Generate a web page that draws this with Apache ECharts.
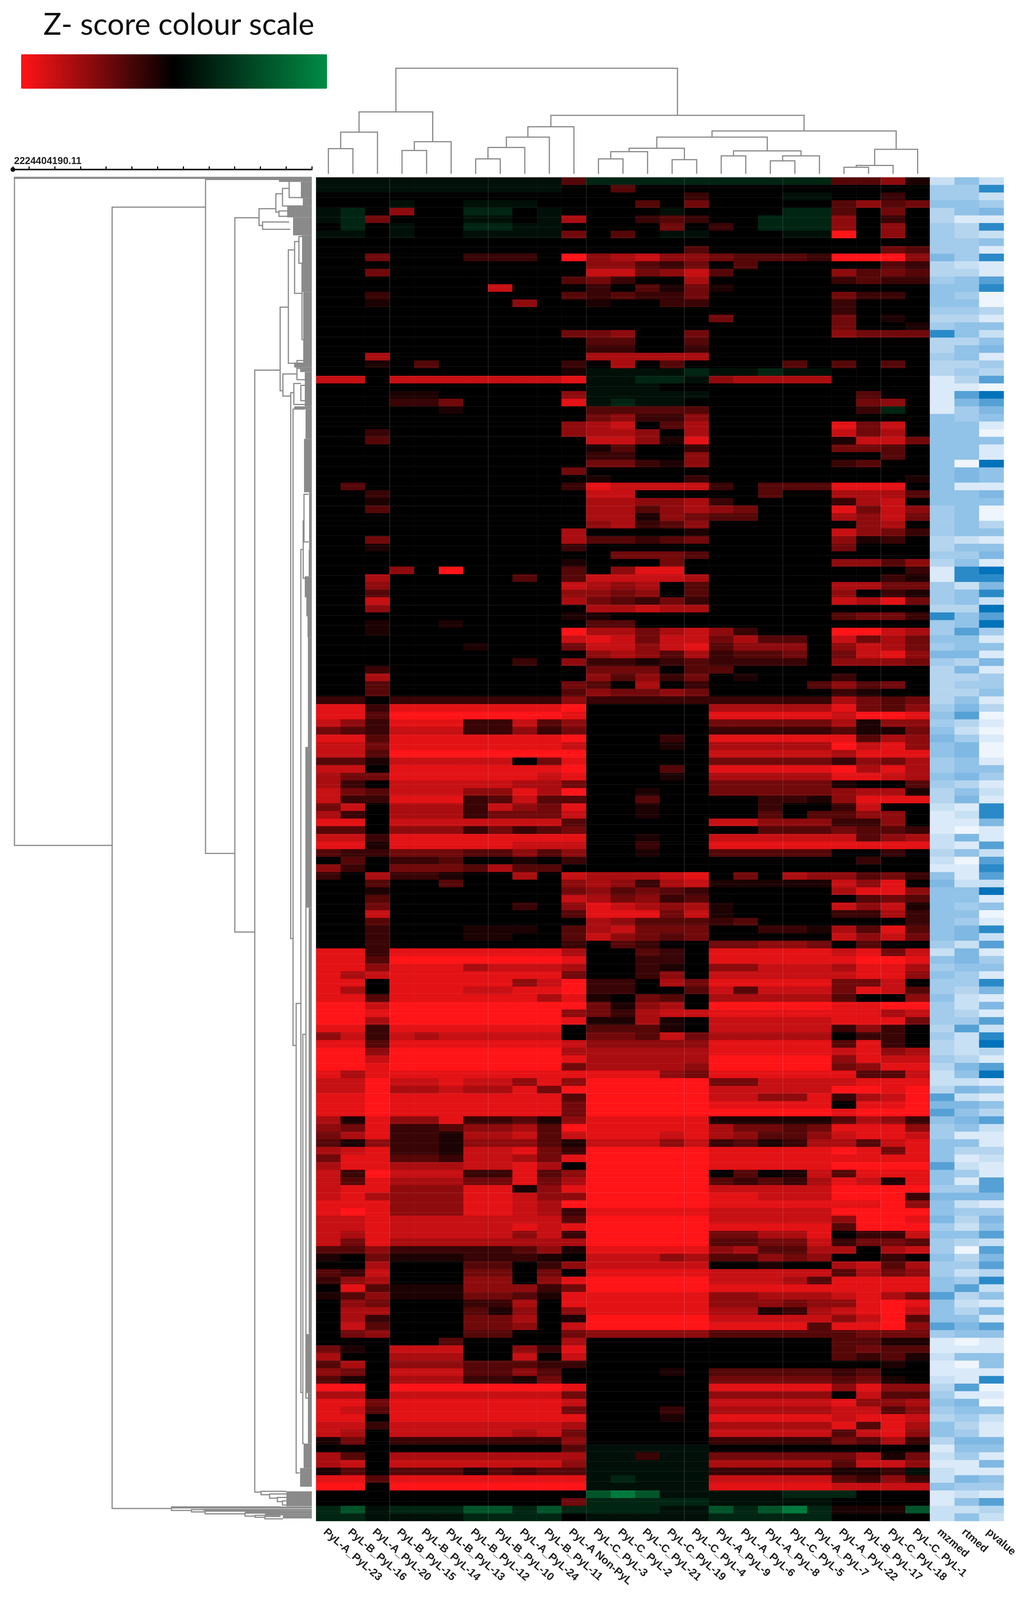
<!DOCTYPE html>
<html><head><meta charset="utf-8">
<style>html,body{margin:0;padding:0;background:#fff;overflow:hidden}#c{width:2631px}</style>
<script src="https://cdn.jsdelivr.net/npm/echarts@6/dist/echarts.min.js"></script>
</head><body><div id="c"></div>
<script>
const sampleLabels = ['PyL-A_PyL-23','PyL-B_PyL-16','PyL-A_PyL-20','PyL-B_PyL-15','PyL-B_PyL-14','PyL-B_PyL-13','PyL-B_PyL-12','PyL-B_PyL-10','PyL-A_PyL-24','PyL-B_PyL-11','PyL-A Non-PyL','PyL-C_PyL-3','PyL-C_PyL-2','PyL-C_PyL-21','PyL-C_PyL-19','PyL-C_PyL-4','PyL-A_PyL-9','PyL-A_PyL-6','PyL-A_PyL-8','PyL-C_PyL-5','PyL-A_PyL-7','PyL-A_PyL-22','PyL-B_PyL-17','PyL-C_PyL-18','PyL-C_PyL-1'];
const sideLabels = ['mzmed','rtmed','pvalue'];
// one string per row, one char per sample: . = 0, 1-9 = red levels, a-d = green levels
const heatRows = [
"aaa aaa aa aa 3 bbbbb bbbbb 3351","aaa aaa aa aa . .3... ..... ....","... ... .. .. . ....2 ...aa ..2.","... a.. aa a. . ..3.4 ..... 3534",
"ab. 5.. bb .a . ...a. ...bb 3.4.","ab4 ... aa .a 6 ..232 ..bbb 5.2.",".b. a.. bb aa . ...4. 2.bbb 5.5.","aa. a.. aa aa 4 .3.aa ...aa 9.5.",
"... ... .. .. . ..... ..... ....","... ... .. .. . ....3 ..... ..43","..4 ... 22 2. 9 56755 43332 9995","... ... .. .. . 55324 .3... ..32",
"..4 ... .. .. . 77457 3.... 5343","... ... .. .. 3 42..6 ..... 2322","... ... .7 .. . 2.314 1.... ....","..2 ... .. .. 3 23224 ..... 422.",
"..1 ... .. 5. . 1..22 ..... 2...","... ... .. .. . ..... ..... 2...","... ... .. .. . ..... 4.... 4.1.","... ... .. .. . ..... ..... 4..1",
"... ... .. .. 4 45..4 ..... 5444","... ... .. .. . 33..3 ..... ....","... ... .. .. . 22..2 ..... ....","..6 ... .. .. . 66666 ..... ....",
"..1 .3. .. .. 2 .6.3. ...3. 3.3.","... ... .. .. 1 aaaab aabaa ....","77. 777 77 77 8 aabba 56666 ....","... ... .. .. . aaa.. ..... ....",
"... 11. .. .. 5 aaaaa ..... .3..","... 224 .. .. 8 abaa. ..... .45.","... ..1 .. .. . 33333 ..... .2b.","... ... .. .. . 45225 ..... ....",
"... ... .. .. 5 67.36 ..... 847.","..2 ... .. .. 5 665.6 ..... 746.","..3 ... .. .. . 77518 ..... 1774","... ... .. .. . 13..2 ..... 443.",
"... ... .. .. . 22..5 ..... ..3.","... ... .. .. . 44215 ..... 23..","... ... .. .. 4 ..... ..... ....","... ... .. .. . 1...2 ..... ...1",
".3. ... .. .. 2 87777 2.333 888.","..2 ... .. .. . 77... ..3.. 6663","..1 ... .. .. . 66556 2.... 267.","..3 ... .. .. . 66356 54... 8475",
"... ... .. .. . 66154 33... 6574","... ... .. .. . 56235 ..... .56.","... ... .. .. 6 ....1 ..... 7542","..4 ... .. .. 6 33234 ..... 512.",
"..1 ... .. .. 2 ..... ..... 4...","... ... .. .. . .4443 ..... ....","... ... .. .. 1 ...4. ..... 5535","... 5.9 .. .. 3 .588. ..... ...2",
"..6 ... .. 3. 3 77776 ..... ..21","..5 ... .. .. 7 656.3 ..... 6644","..3 ... .. .. 5 545.3 ..... 5.21","..7 ... .. .. 6 43242 ..... 7684",
"..5 ... .. .. . 66766 ..... ....","... ... .. .. 1 1.... ..... 3442","..1 ..1 .. .. . 33... ..... ....","..1 ... .. .. 9 66467 52... 9976",
"... ... .. .. 7 87477 4633. 7464","... ... 1. .. 4 77578 3555. 5764","... ... .. .. . 56536 2334. 4785","... ... .. 2. 5 22123 2222. 5554",
"..2 ... .. .. . 444.3 3.... ....","..6 ... .. .. . 53524 .1... 2...","..3 ... .. .. 4 3.6.2 ....3 534.","..3 ... .. .. 3 54454 ..... 21..",
"22. 222 22 22 5 22222 22222 6434","882 888 88 88 9 ..... 66666 8435","883 999 99 99 8 ..... 88888 7998","752 888 22 73 5 ..... 44444 6155",
"432 777 22 52 4 ..... 22222 3114","883 888 88 88 9 ...2. 88888 8365","774 888 88 88 7 ...1. 66666 9785","773 999 99 99 9 ..... 77777 6888",
"331 777 77 .4 8 ..... 44444 2546","77. 888 88 88 9 ...3. 88888 9686","644 888 88 87 8 ...1. 66666 8876","62. 777 77 66 4 ..... 44444 1..3",
"743 777 55 86 9 ..1.. 44444 5661","722 888 23 73 3 ..3.. ..221 5888","47. 666 27 54 8 ..1.. ..2.. 27..","62. 666 24 44 7 ..1.. ..3.3 355.",
"88. 777 77 77 3 ..... 77555 225.","33. 555 24 23 4 ..... ..333 4332","772 888 88 88 8 ..1.. 77777 7356","881 888 88 77 7 ..2.. 88888 8888",
"322 444 33 53 5 ..1.. 33333 ..2.",".3. 223 .. 1. 2 ..... ..... .2..","52. 444 36 33 . ..... ..... ....","2.6 221 .. 6. 7 66678 .4.65 5342",
"..3 ..3 .. .. 5 65267 11111 758.","..1 ... .. .. 4 53432 ..... 6885","..3 ... .. .. 7 64523 ..... .343","..4 ... .. 2. 5 87656 1.... 7571",
"..7 ... .. .. 3 88847 1.... 2262","..3 ... .. .. . 65333 23... ...2","..2 ... 11 1. 3 67444 ..221 6383","..2 ... 11 .. 3 75434 ..... 7574",
"..2 ... .. .. 2 .32.. 44554 .3..","882 888 88 88 6 ..32. 88888 7847","883 999 99 99 8 ..22. 88888 8998","885 888 67 77 6 ..21. 55777 6886",
"867 888 88 88 4 ..25. 77777 7885","88. 888 88 57 9 22.64 88888 447.","86. 888 77 88 9 22..3 73777 4873","883 888 88 86 8 1.43. 66666 3..5",
"997 999 99 99 9 4156. 99999 8899","998 999 99 99 5 42677 88888 8867","996 999 99 99 8 1161. 77777 8884","882 888 88 88 . 3331. 77777 252.",
"572 767 77 77 . 44374 66666 .22.","883 888 88 88 7 55555 88888 382.","995 999 99 99 6 66666 88888 7856","997 999 99 99 8 66666 99999 5877",
"998 999 99 99 4 66665 99999 4588","868 888 88 88 8 88854 88888 8337","779 778 77 58 5 99999 44777 7888","779 667 66 84 9 99999 77777 9989",
"889 888 88 88 3 99999 77558 2679","889 888 88 88 4 99999 88888 .889","889 888 88 88 4 99999 99999 8999","618 558 22 31 5 88888 11111 3652",
"548 223 55 63 9 88888 64434 8885","468 221 66 73 7 88878 65335 7887","315 221 55 53 1 77757 23126 6378","678 221 77 84 2 99999 88888 9848",
"488 332 77 64 8 99999 88888 8888","688 666 77 86 . 99999 88888 9999","729 777 22 83 5 99999 .3.17 3888","738 666 44 84 6 99999 32326 8718",
"788 555 88 15 8 99999 77777 9999","786 555 88 75 5 99999 88777 9992","888 555 88 76 9 99999 88888 8895","898 555 88 76 2 88888 77777 9999",
"778 777 77 77 3 99999 77777 5998","778 777 77 87 8 99999 88888 3999","768 777 77 57 2 99999 44668 .227","748 666 66 66 6 99999 33447 2443",
"335 222 22 35 1 88888 56336 6.67","1.4 111 22 21 . 77756 33545 ..2.","..6 ... 33 .2 5 77777 ..1.. 6736","327 ... 44 .4 . 88888 77777 3645",
"256 ... 55 .5 8 99999 77763 8888",".83 111 55 52 4 99999 88888 8888","135 111 44 31 8 88888 55666 7864",".54 ... 22 6. 8 88888 55545 5898",
".66 ... 31 5. 5 88888 66126 7897",".62 ... 44 6. 1 99999 77777 5793",".73 ... 44 5. 7 99999 88883 8895",".45 ... 33 .. 4 55555 33333 3444",
"... ..3 .. .. 6 ..... ..... 3311","41. 777 .. 52 8 ..... ..... 3433","6.. 666 .. 7. 7 ..... ..... 3231","36. 555 33 32 2 ..... ..... ..1.",
"54. 777 33 53 . ...1. 33333 23..","31. 666 22 14 . ..... 44444 341.","99. 999 99 99 8 ..... 88888 5855","66. 777 77 77 4 ..... 55555 .733",
"884 888 88 88 7 ..... 77777 8556","873 888 88 88 4 ...2. 66666 7735","88. 888 88 88 8 ...1. 88888 7887","772 777 77 77 6 ..... 66666 8386",
"76. 777 77 67 4 ..... 77777 3785","14. 222 22 22 5 ..... 22222 4362","... ... .. .. 3 aaaaa ..... ....","63. 666 66 66 6 aa2aa 44444 4614",
"67. 777 77 77 5 aaaaa 66666 3775","13. 333 13 23 3 aaaaa 22222 112a","883 888 88 88 8 abaaa 77777 3252","99. 999 99 99 9 aaaaa 88888 7777",
"... ... .. .. . cdcaa aaabb b...","... ... .. .. 4 bbbbb aaaaa ....","bca bbb cc bc b bbbaa cbcdb 111c","bba aaa bb bb . aaaaa bbbbb ...."
];
const mzmed = "24453344446 33455543483 34331111155 55555555554 44433431144 43844546433 33345456554 45433211122 32156555555 54254544544 43433432237 67544555755 46556454454 45575557411 21123454355 31212251122";
const rtmed = "54455133444 23554543553 55343176445 55550661555 55525458825 53557556363 43567324665 56356121061 50112554546 62665443223 47222365262 65651531241 46243253034 24732356501 50117165434 65411642525";
const pvalue = "28246182518 11780031525 61437097651 05119551650 03515619868 29794151614 45130101001 54121886117 27872915018 27145186161 72893179151 53721132117 76146572767 38251617511 55180105211 65161541732";
// column dendrogram: [child, child, height]; child < 25 is a sample, otherwise node (25 + merge number)
const topMerges = [[0,1,66],[25,2,109],[3,4,61],[27,5,84],[26,28,162],[6,7,39],[30,8,69],[31,9,96],[32,10,123],[11,12,39],[34,13,58],[14,15,37],[35,36,67],[16,17,47],[18,19,34],[39,20,47],[38,40,60],[37,41,96],[21,22,17],[43,23,22],[44,24,64],[42,45,112],[33,46,153],[29,47,276]];
// row dendrogram: [distance, rowTop, rowBottom, distanceTopChild, distanceBottomChild]
const rowBrackets = [[761,0,1750,0,511],[511,78,3487,272,359],[272,5,1771,0,197],[197,106,1977,135,146],[146,505,3444,81,130],[81,340,559,60,74],[60,190,487,44,38],[135,82,126,92,126],[92,43,91,75,84],[75,29,75,58,13],[58,10,53,40,25],[84,88,102,30,25],[126,117,136,58,55],[74,515,573,38,54],[54,564,1994,46,48],[48,607,2274,18,40],[40,2164,3394,28,31],[28,975,3183,22,23],[23,2245,3317,15,20],[15,1495,3198,8,8],[44,168,304,33,25],[33,155,225,13,13],[25,225,425,13,8],[20,830,955,8,8],[22,900,1050,20,14],[38,480,500,15,15],[38,500,530,15,15],[46,540,595,28,13],[28,545,585,8,8],[130,3442,3451,65,108],[108,3449,3460,65,88],[88,3458,3469,65,75],[75,3467,3478,65,53],[359,3483,3492,80,308],[308,3490,3496,80,273],[273,3494,3501,80,171],[171,3499,3507,80,145],[145,3505,3510,80,120],[120,3508,3514,80,74]];
// dense leaf masses: [rowTop, rowBottom, distance]
const leafMass = [[0,4,761],[3,7,272],[0,12,84],[12,55,28],[55,75,23],[75,105,63],[105,152,48],[152,300,25],[300,490,22],[485,498,45],[498,510,30],[510,600,18],[600,607,45],[607,685,16],[685,825,20],[825,975,7],[975,1045,8],[1045,1100,18],[1100,1150,14],[1150,1205,11],[1205,1492,10],[1492,1913,16],[1913,3030,8],[3030,3185,16],[3185,3317,10],[3317,3381,21],[3381,3430,30],[3442,3481,65],[3482,3487,359],[3488,3493,278],[3493,3500,171],[3500,3505,120],[3505,3513,74]];
const distanceMax = '2224404190.11';
const titleText = 'Z- score colour scale';

const clean = s => s.replace(/ /g,'');
const greens = {a:.35,b:.8,c:1.8,d:2.6};
const zOf = ch => ch==='.' ? 0 : (greens[ch]!==undefined ? greens[ch] : -Number(ch)/3);
const rowNames = heatRows.map((_,i)=>String(i));
const heatData = [];
heatRows.forEach((r,y)=>{ clean(r).split('').forEach((ch,x)=>heatData.push([x,y,zOf(ch)])); });
const sideData = [];
[mzmed,rtmed,pvalue].forEach((s,x)=>{ clean(s).split('').forEach((ch,y)=>sideData.push([x,y,Number(ch)])); });
const nodePos = {};
const topData = topMerges.map((m,k)=>{
  const p = c => c<25 ? [c+.5,0] : nodePos[c];
  const a=p(m[0]), b=p(m[1]);
  nodePos[25+k]=[(a[0]+b[0])/2,m[2]];
  return [a[0],a[1],b[0],b[1],m[2]];
});
const gray='#8a8a8a';
// the visible window may be shorter than the nominal 4192: keep every part on the page
const pageH=Math.min(4192,window.innerHeight||4192);
const ky=pageH/4192;
const Y=v=>Math.round(v*ky);
const HL=809,HW=1571,HT=Y(465),HH=Y(3985)-Y(465);
const lab={interval:0,rotate:-41,fontFamily:'Liberation Sans',fontWeight:'bold',fontSize:28,color:'#222',margin:14,align:'left',verticalAlign:'top'};
const hide={show:false};
const option={
  animation:false,backgroundColor:'#fff',
  title:[
    {text:titleText,left:106,top:Y(22),textStyle:{fontFamily:'Lato',fontWeight:'normal',fontSize:77,color:'#111'}},
    {text:distanceMax,left:31,top:Y(405),textStyle:{fontFamily:'Liberation Sans',fontWeight:'bold',fontSize:25,color:'#222'}}
  ],
  grid:[
    {left:HL,top:HT,width:HW,height:HH},
    {left:HL+HW,top:HT,width:189,height:HH},
    {left:HL,top:HT,width:HW,height:HH},
    {left:HL,top:Y(170),width:HW,height:Y(455)-Y(170)},
    {left:33,top:HT,width:765,height:HH}
  ],
  xAxis:[
    {gridIndex:0,type:'category',data:sampleLabels,z:3,axisLine:hide,axisTick:hide,axisLabel:lab,
     splitLine:{show:true,interval:i=>i%4===3,lineStyle:{color:'rgba(255,255,255,0.22)',width:1}}},
    {gridIndex:1,type:'category',data:sideLabels,axisLine:hide,axisTick:hide,axisLabel:lab,splitLine:hide},
    {gridIndex:2,type:'value',min:0,max:1,show:false},
    {gridIndex:3,type:'value',min:0,max:25,show:false},
    {gridIndex:4,type:'value',min:0,max:765,interval:65.8,inverse:true,position:'top',offset:20,
     axisLine:{show:true,onZero:false,symbol:['circle','none'],symbolSize:[12,12],lineStyle:{color:'#111',width:4}},
     axisTick:{show:true,length:8,lineStyle:{color:'#111',width:3}},axisLabel:hide,splitLine:hide}
  ],
  yAxis:[
    {gridIndex:0,type:'category',data:rowNames,inverse:true,show:false},
    {gridIndex:1,type:'category',data:rowNames,inverse:true,show:false},
    {gridIndex:2,type:'value',min:0,max:135,interval:1,z:3,axisLine:hide,axisTick:hide,axisLabel:hide,
     splitLine:{show:true,lineStyle:{color:'rgba(255,255,255,0.09)',width:1}}},
    {gridIndex:3,type:'value',min:0,max:285,show:false},
    {gridIndex:4,type:'value',min:0,max:3520,inverse:true,show:false}
  ],
  visualMap:[
    {type:'continuous',seriesIndex:0,dimension:2,min:-3,max:3,show:true,orient:'horizontal',left:54,top:Y(142),padding:0,
     itemWidth:Y(232)-Y(142),itemHeight:783,text:null,calculable:false,hoverLink:false,
     inRange:{color:['#ff1418','#000000','#008c45']}},
    {type:'continuous',seriesIndex:1,dimension:2,min:0,max:9,show:false,
     inRange:{color:['#eef5fc','#b5d5ef','#7fb8e3','#0073ba']}}
  ],
  series:[
    {type:'heatmap',xAxisIndex:0,yAxisIndex:0,data:heatData,progressive:0,silent:true},
    {type:'heatmap',xAxisIndex:1,yAxisIndex:1,data:sideData,progressive:0,silent:true},
    {type:'custom',xAxisIndex:3,yAxisIndex:3,data:topData,silent:true,clip:false,renderItem:(p,api)=>{
      const a=api.coord([api.value(0),api.value(1)]),a2=api.coord([api.value(0),api.value(4)]),
            b2=api.coord([api.value(2),api.value(4)]),b=api.coord([api.value(2),api.value(3)]);
      return {type:'polyline',shape:{points:[a,a2,b2,b]},style:{stroke:gray,fill:'none',lineWidth:3}};
    }},
    {type:'custom',xAxisIndex:4,yAxisIndex:4,data:leafMass,silent:true,clip:false,renderItem:(p,api)=>{
      const a=api.coord([api.value(2),api.value(0)]),b=api.coord([0,api.value(1)]);
      return {type:'rect',shape:{x:a[0],y:a[1],width:b[0]-a[0],height:b[1]-a[1]},style:{fill:gray}};
    }},
    {type:'custom',xAxisIndex:4,yAxisIndex:4,data:rowBrackets,silent:true,clip:false,renderItem:(p,api)=>{
      const v=api.value(0),t=api.value(1),d=api.value(2);
      return {type:'polyline',shape:{points:[api.coord([api.value(3),t]),api.coord([v,t]),api.coord([v,d]),api.coord([api.value(4),d])]},
        style:{stroke:gray,fill:'none',lineWidth:3}};
    }}
  ]
};
const el=document.getElementById('c');
el.style.height=pageH+'px';
const chart=echarts.init(el,null,{renderer:'canvas',width:2631,height:pageH});
chart.setOption(option);
</script></body></html>
